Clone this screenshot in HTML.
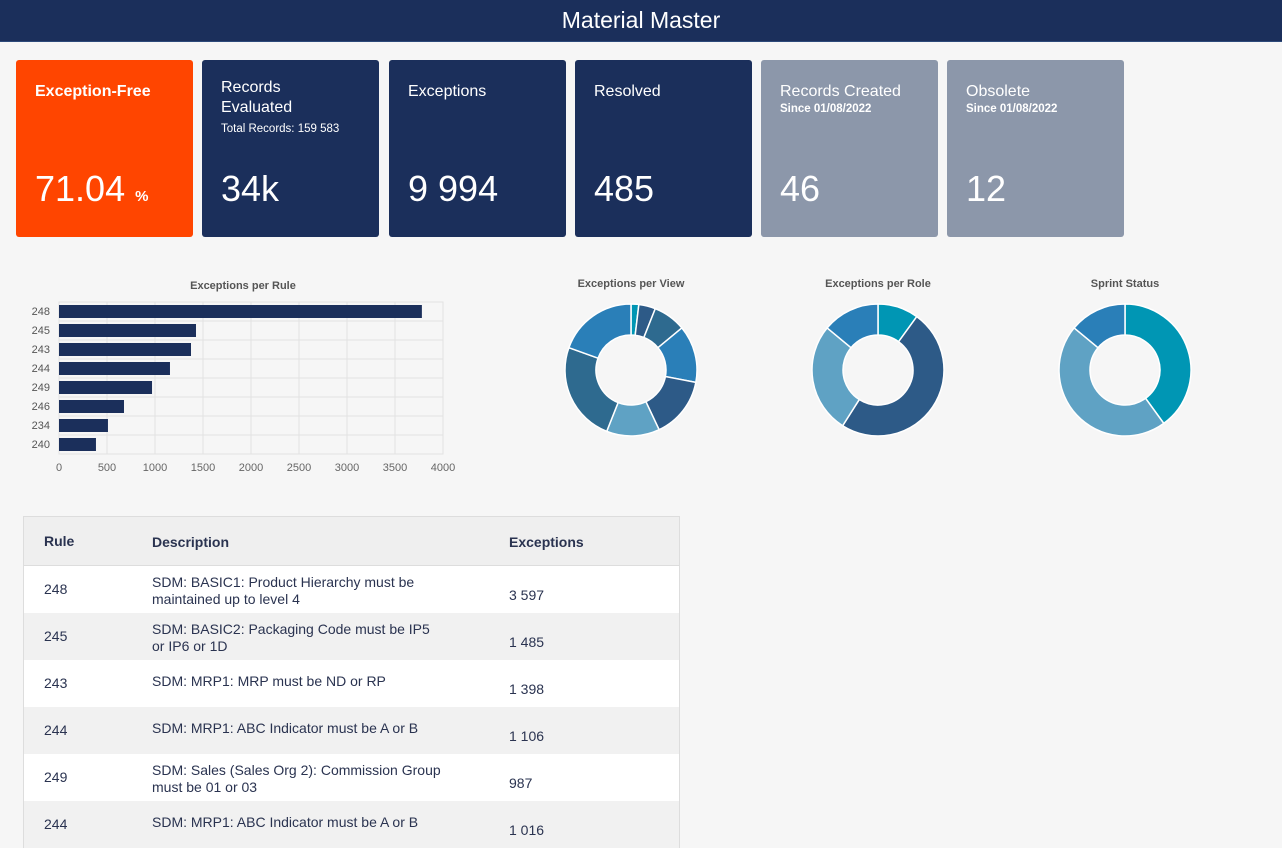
<!DOCTYPE html>
<html><head><meta charset="utf-8">
<style>
body{margin:0;width:1282px;height:825px;overflow:hidden;background:#f6f6f6;font-family:"Liberation Sans",sans-serif;position:relative}
.hdr{position:absolute;left:0;top:0;width:1282px;height:41px;background:#1b2f5b;color:#fff;font-size:23px;text-align:center;line-height:40px;border-bottom:1px solid #2d4a7a}
.card{position:absolute;top:60px;width:177px;height:177px;border-radius:3px;color:#fff}
.card .t{position:absolute;left:19px;top:22px;font-size:16px;line-height:20px}
.card .s{position:absolute;left:19px;font-size:11.5px}
.card .v{position:absolute;left:19px;top:108px;font-size:36px}
.tbl{position:absolute;left:23px;top:516px;width:655px;border:1px solid #ddd;border-bottom:none}
.row{position:relative;height:47px;font-size:14px;color:#2a3350}
.row div{position:absolute}
</style></head><body>
<div class="hdr">Material Master</div>

<div class="card" style="left:16px;background:#ff4500"><div class="t" style="font-weight:bold;top:22px">Exception-Free</div><div class="v">71.04 <span style="font-size:15px;font-weight:bold">%</span></div></div>
<div class="card" style="left:202px;background:#1b2f5b"><div class="t" style="top:18px">Records<br>Evaluated</div><div class="s" style="top:63px">Total Records: 159 583</div><div class="v">34k</div></div>
<div class="card" style="left:389px;background:#1b2f5b"><div class="t">Exceptions</div><div class="v">9 994</div></div>
<div class="card" style="left:575px;background:#1b2f5b"><div class="t">Resolved</div><div class="v">485</div></div>
<div class="card" style="left:761px;background:#8c97aa"><div class="t">Records Created</div><div class="s" style="top:43px;font-weight:bold">Since 01/08/2022</div><div class="v">46</div></div>
<div class="card" style="left:947px;background:#8c97aa"><div class="t">Obsolete</div><div class="s" style="top:43px;font-weight:bold">Since 01/08/2022</div><div class="v">12</div></div>

<svg id="bar" style="position:absolute;left:0;top:270px" width="470" height="210"></svg>
<svg id="donuts" style="position:absolute;left:520px;top:270px" width="720" height="180"></svg>

<div class="tbl">
<div class="row" style="height:48px;background:#efefef;font-weight:bold;font-size:14px;border-bottom:1px solid #ddd"><div style="left:20px;top:16px">Rule</div><div style="left:128px;top:17px">Description</div><div style="left:485px;top:17px">Exceptions</div></div>
<div id="rows"></div>
</div>

<script>
const ns="http://www.w3.org/2000/svg";
function mk(p,tag,a){const e=document.createElementNS(ns,tag);for(const k in a)e.setAttribute(k,a[k]);p.appendChild(e);return e;}
const rules=["248","245","243","244","249","246","234","240"];
const ruleValues=[3780,1427,1375,1156,969,677,510,385];
const xTicks=[0,500,1000,1500,2000,2500,3000,3500,4000];
const viewValues=[1.9,4.1,8,14,15,13,24.5,19.5];
const roleValues=[10,49,27,14];
const sprintValues=[40,46,14];

const bar=document.getElementById('bar');
const x0=59,x1=443,yTop=32,rowH=19;
const xs=v=>x0+(v/4000)*(x1-x0);
const t=mk(bar,'text',{x:243,y:19,'text-anchor':'middle','font-size':11,'font-weight':'bold',fill:'#555'});t.textContent='Exceptions per Rule';

mk(bar,'rect',{x:x0,y:yTop,width:x1-x0,height:rowH*8,fill:'none',stroke:'#e2e2e2'});
xTicks.forEach(v=>{mk(bar,'line',{x1:xs(v),x2:xs(v),y1:yTop,y2:yTop+rowH*8,stroke:'#e2e2e2'});
const l=mk(bar,'text',{x:xs(v),y:yTop+rowH*8+17,'text-anchor':'middle','font-size':11,fill:'#666'});l.textContent=v;
});
rules.forEach((r,i)=>{const y=yTop+i*rowH;
mk(bar,'line',{x1:x0,x2:x1,y1:y+rowH,y2:y+rowH,stroke:'#e2e2e2'});
const b=mk(bar,'rect',{x:x0,y:y+3,width:xs(ruleValues[i])-x0,height:13,fill:'#1b2f5b'});

const l=mk(bar,'text',{x:50,y:y+13,'text-anchor':'end','font-size':11,fill:'#555'});l.textContent=r;
});

const dn=document.getElementById('donuts');
function donut(cx,cy,vals,cols,title,name){
 const tt=mk(dn,'text',{x:cx,y:17,'text-anchor':'middle','font-size':11,'font-weight':'bold',fill:'#555'});tt.textContent=title;
 
 const tot=vals.reduce((a,b)=>a+b,0);let a=0;const R=66,r=35;
 vals.forEach((v,i)=>{const a2=a+v/tot*2*Math.PI;
  const p=(ang,rad)=>[cx+rad*Math.sin(ang),cy-rad*Math.cos(ang)];
  const lg=(a2-a)>Math.PI?1:0;const [ax,ay]=p(a,R),[bx,by]=p(a2,R),[cx2,cy2]=p(a2,r),[dx,dy]=p(a,r);
  const s=mk(dn,'path',{d:`M${ax},${ay}A${R},${R} 0 ${lg} 1 ${bx},${by}L${cx2},${cy2}A${r},${r} 0 ${lg} 0 ${dx},${dy}Z`,fill:cols[i%cols.length],stroke:'#fff','stroke-width':1.5});
  a=a2;});
}
donut(111,100,viewValues,['#0096b4','#2d5a87','#2e6a8f','#2a7fb8','#2d5a87','#5fa2c4','#2e6a8f','#2a7fb8'],'Exceptions per View','view-donut');
donut(358,100,roleValues,['#0096b4','#2d5a87','#5fa2c4','#2a7fb8'],'Exceptions per Role','role-donut');
donut(605,100,sprintValues,['#0096b4','#5fa2c4','#2a7fb8'],'Sprint Status','sprint-donut');

const tableRows=[["248","SDM: BASIC1: Product Hierarchy must be<br>maintained up to level 4","3 597"],
["245","SDM: BASIC2: Packaging Code must be IP5<br>or IP6 or 1D","1 485"],
["243","SDM: MRP1: MRP must be ND or RP","1 398"],
["244","SDM: MRP1: ABC Indicator must be A or B","1 106"],
["249","SDM: Sales (Sales Org 2): Commission Group<br>must be 01 or 03","987"],
["244","SDM: MRP1: ABC Indicator must be A or B","1 016"]];
const rc=document.getElementById('rows');
tableRows.forEach((r,i)=>{const d=document.createElement('div');d.className='row';
d.style.background=i%2?'#f1f1f1':'#fff';


const two=r[1].includes('<br>');
d.innerHTML=`<div style="left:20px;top:15px">${r[0]}</div><div style="left:128px;top:${two?8:13}px;line-height:17px">${r[1]}</div><div style="left:485px;top:21px">${r[2]}</div>`;
rc.appendChild(d);});
</script>
</body></html>
